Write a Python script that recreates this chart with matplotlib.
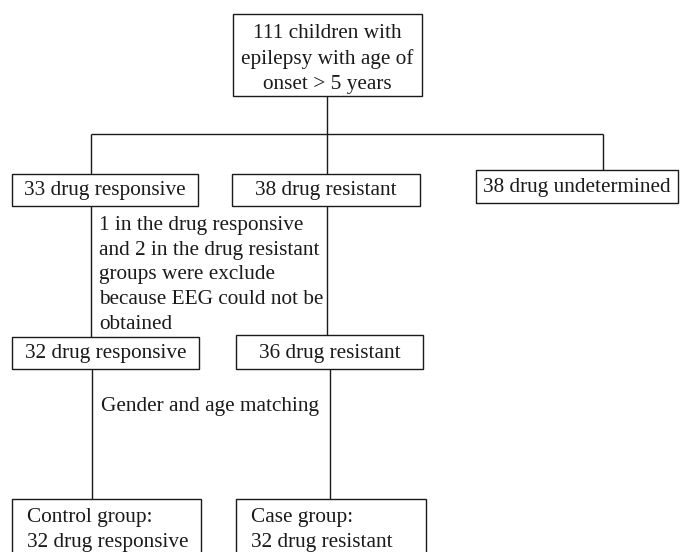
import matplotlib.pyplot as plt
from matplotlib.patches import Rectangle

# texts of the flowchart
top_label = "111 children with\nepilepsy with age of\nonset > 5 years"
level1_labels = ["33 drug responsive", "38 drug resistant", "38 drug undetermined"]
exclusion_note = ("1 in the drug responsive\nand 2 in the drug resistant\n"
                  "groups were exclude\nbecause EEG could not be\nobtained")
level2_labels = ["32 drug responsive", "36 drug resistant"]
matching_note = "Gender and age matching"
final_labels = ["Control group:\n32 drug responsive", "Case group:\n32 drug resistant"]

plt.rcParams['font.family'] = ['Liberation Serif', 'DejaVu Serif']
FS = 15.3
LS = 1.41
LW = 1.0
col = '#1a1a1a'

fig = plt.figure(figsize=(6.8, 5.52), dpi=100)
ax = fig.add_axes([0, 0, 1, 1])
ax.set_xlim(0, 680)
ax.set_ylim(552, 0)
ax.axis('off')


def box(x0, y0, x1, y1):
    ax.add_patch(Rectangle((x0, y0), x1 - x0, y1 - y0, fill=False,
                           edgecolor=col, lw=LW))


def line(xs, ys):
    ax.plot(xs, ys, color=col, lw=LW, solid_capstyle='butt')


# top box
box(233, 14, 422, 96)
ax.text(327.5, 59, top_label, ha='center', va='center', fontsize=FS,
        linespacing=LS, color=col)

# connectors from top
line([327, 327], [96, 134])
line([91, 603], [134, 134])
line([91, 91], [134, 174])
line([327, 327], [134, 174])
line([603, 603], [134, 170])

# level 1 boxes
l1 = [(12, 174, 198, 206), (232, 174, 420, 206), (476, 170, 678, 203)]
for (x0, y0, x1, y1), lab in zip(l1, level1_labels):
    box(x0, y0, x1, y1)
    ax.text((x0 + x1) / 2, y1 - 11, lab, ha='center', va='baseline',
            fontsize=FS, color=col)

# exclusion text
line([91, 91], [206, 337])
line([327, 327], [206, 335])
ax.text(99, 275, exclusion_note, ha='left', va='center', fontsize=FS,
        linespacing=LS, color=col)

# level 2 boxes
l2 = [(12, 337, 199, 369), (236, 335, 423, 369)]
for (x0, y0, x1, y1), lab in zip(l2, level2_labels):
    box(x0, y0, x1, y1)
    ax.text((x0 + x1) / 2, 358, lab, ha='center', va='baseline',
            fontsize=FS, color=col)

# matching
line([92, 92], [369, 499])
line([330, 330], [369, 499])
ax.text(101, 406, matching_note, ha='left', va='center', fontsize=FS, color=col)

# final boxes (cut by bottom edge)
fin = [(12, 499, 201, 600, 27), (236, 499, 426, 600, 251)]
for (x0, y0, x1, y1, tx), lab in zip(fin, final_labels):
    box(x0, y0, x1, y1)
    ax.text(tx, 530, lab, ha='left', va='center', fontsize=FS,
            linespacing=LS, color=col)

fig.savefig('out.png', dpi=100)
